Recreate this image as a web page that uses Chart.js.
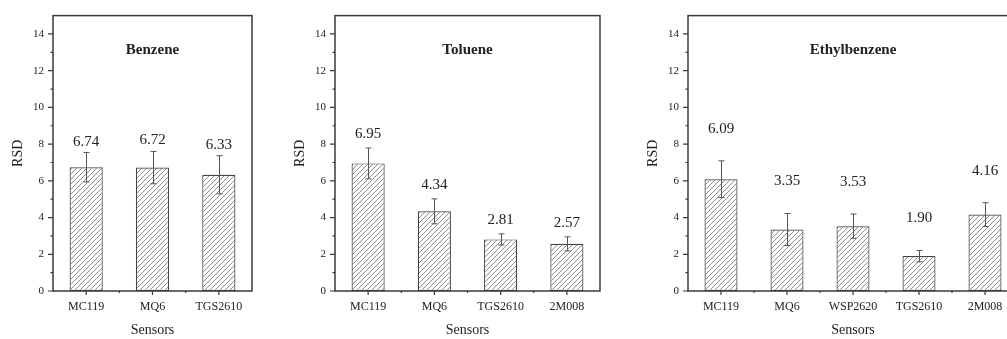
<!DOCTYPE html>
<html>
<head>
<meta charset="utf-8">
<script src="https://cdn.jsdelivr.net/npm/chart.js@4.4.1/dist/chart.umd.min.js"></script>
<style>
  html, body { margin: 0; padding: 0; background: #fff; }
  body { width: 1007px; height: 339px; position: relative; overflow: hidden; }
  .panel { position: absolute; top: 0; height: 339px; }
</style>
</head>
<body>
<div class="panel" style="left:0px;width:262px"><canvas id="c1"></canvas></div>
<div class="panel" style="left:282px;width:328px"><canvas id="c2"></canvas></div>
<div class="panel" style="left:635px;width:393px"><canvas id="c3"></canvas></div>
<script>
// Benzene
const benzeneSensors = ['MC119', 'MQ6', 'TGS2610'];
const benzeneRsd = [6.74, 6.72, 6.33];
const benzeneErr = [0.80, 0.88, 1.04];

// Toluene
const tolueneSensors = ['MC119', 'MQ6', 'TGS2610', '2M008'];
const tolueneRsd = [6.95, 4.34, 2.81, 2.57];
const tolueneErr = [0.84, 0.68, 0.30, 0.38];

// Ethylbenzene
const ethylSensors = ['MC119', 'MQ6', 'WSP2620', 'TGS2610', '2M008'];
const ethylRsd = [6.09, 3.35, 3.53, 1.90, 4.16];
const ethylErr = [1.00, 0.87, 0.66, 0.31, 0.65];

const yTicks = [0, 2, 4, 6, 8, 10, 12, 14];
const SERIF = '"Liberation Serif", "DejaVu Serif", serif';

function hatchFor(ctx) {
    const c = document.createElement('canvas');
    c.width = c.height = 5;
    const g = c.getContext('2d');
    g.fillStyle = '#fff';
    g.fillRect(0, 0, 5, 5);
    g.strokeStyle = '#808080';
    g.lineWidth = 0.9;
    g.beginPath();
    g.moveTo(0, 5); g.lineTo(5, 0);
    g.moveTo(-1, 1); g.lineTo(1, -1);
    g.moveTo(4, 6); g.lineTo(6, 4);
    g.stroke();
    return ctx.createPattern(c, 'repeat');
}

// error bars, value labels, panel title, frame and tick marks
const decorations = {
    id: 'decorations',
    afterDatasetsDraw(chart, args, opts) {
        const { ctx, chartArea: a, scales: { x, y } } = chart;
        const values = chart.data.datasets[0].data;
        const meta = chart.getDatasetMeta(0);
        ctx.save();

        // error bars
        ctx.strokeStyle = '#555';
        ctx.lineWidth = 1;
        meta.data.forEach((bar, i) => {
            const v = values[i], e = opts.err[i];
            const top = y.getPixelForValue(v + e);
            const bot = y.getPixelForValue(v - e);
            const cx = Math.round(bar.x) + 0.5;
            ctx.beginPath();
            ctx.moveTo(cx, top); ctx.lineTo(cx, bot);
            ctx.moveTo(cx - 3, top); ctx.lineTo(cx + 3, top);
            ctx.moveTo(cx - 3, bot); ctx.lineTo(cx + 3, bot);
            ctx.stroke();
        });

        // value labels
        ctx.fillStyle = '#222';
        ctx.font = '15px ' + SERIF;
        ctx.textAlign = 'center';
        ctx.textBaseline = 'middle';
        meta.data.forEach((bar, i) => {
            const top = y.getPixelForValue(values[i] + opts.err[i]);
            ctx.fillText(values[i].toFixed(2), bar.x, top - opts.labelGap);
        });

        // title
        ctx.font = 'bold 15px ' + SERIF;
        ctx.fillText(opts.title, (a.left + a.right) / 2, a.top + 35);

        // frame
        ctx.strokeStyle = '#3a3a3a';
        ctx.lineWidth = 1.5;
        ctx.strokeRect(a.left, a.top, a.right - a.left, a.bottom - a.top);

        // y ticks (major every 2, minor in between)
        ctx.lineWidth = 1.2;
        ctx.beginPath();
        for (let v = 0; v <= 14; v++) {
            const py = y.getPixelForValue(v);
            const len = v % 2 === 0 ? 5 : 2.5;
            ctx.moveTo(a.left - len, py); ctx.lineTo(a.left, py);
        }
        // x ticks (major at categories, minor at boundaries)
        const n = chart.data.labels.length;
        for (let i = 0; i < n; i++) {
            const px = x.getPixelForValue(i);
            ctx.moveTo(px, a.bottom); ctx.lineTo(px, a.bottom + 4);
            if (i > 0) {
                const bx = (px + x.getPixelForValue(i - 1)) / 2;
                ctx.moveTo(bx, a.bottom); ctx.lineTo(bx, a.bottom + 2);
            }
        }
        ctx.stroke();
        ctx.restore();
    }
};

function makeChart(id, labels, values, err, title, labelGap) {
    const canvas = document.getElementById(id);
    const ctx = canvas.getContext('2d');
    return new Chart(ctx, {
        type: 'bar',
        data: {
            labels: labels,
            datasets: [{
                data: values,
                backgroundColor: hatchFor(ctx),
                borderColor: '#444',
                borderWidth: 1.2,
                borderSkipped: false,
                categoryPercentage: 1,
                barPercentage: 0.5
            }]
        },
        options: {
            responsive: true,
            maintainAspectRatio: false,
            animation: false,
            layout: { padding: { top: 14, right: 10, left: 0, bottom: 0 } },
            scales: {
                x: {
                    grid: { display: false, drawTicks: false },
                    border: { display: false },
                    ticks: { color: '#222', font: { family: SERIF, size: 12 }, padding: 9, maxRotation: 0 },
                    title: { display: true, text: 'Sensors', color: '#222', font: { family: SERIF, size: 14 }, padding: { top: 4, bottom: 0 } },
                    afterFit: s => { s.height = 48; }
                },
                y: {
                    min: 0,
                    max: 15,
                    grid: { display: false, drawTicks: false },
                    border: { display: false },
                    afterBuildTicks: s => { s.ticks = yTicks.map(v => ({ value: v })); },
                    ticks: { color: '#222', font: { family: SERIF, size: 11 }, padding: 9 },
                    title: { display: true, text: 'RSD', color: '#222', font: { family: SERIF, size: 14 }, padding: { top: 10, bottom: 0 } },
                    afterFit: s => { s.width = 53; }
                }
            },
            plugins: {
                legend: { display: false },
                tooltip: { enabled: false },
                decorations: { err: err, title: title, labelGap: labelGap }
            }
        },
        plugins: [decorations]
    });
}

makeChart('c1', benzeneSensors, benzeneRsd, benzeneErr, 'Benzene', 11);
makeChart('c2', tolueneSensors, tolueneRsd, tolueneErr, 'Toluene', 14);
makeChart('c3', ethylSensors, ethylRsd, ethylErr, 'Ethylbenzene', 32);
</script>
</body>
</html>
